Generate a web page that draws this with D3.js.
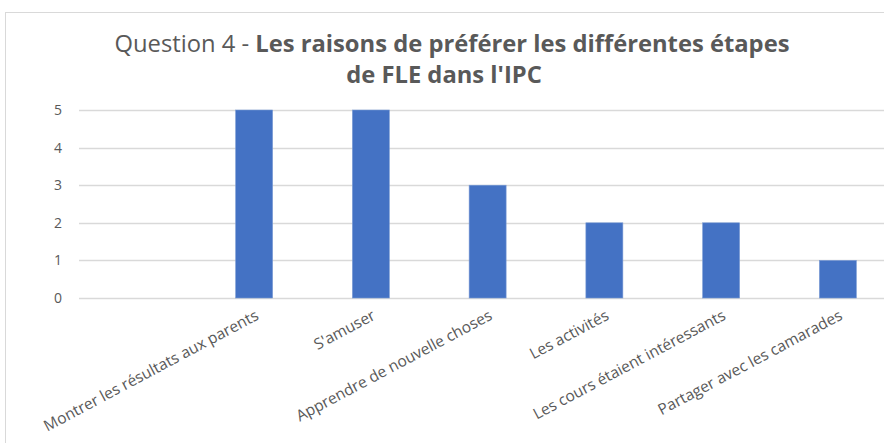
<!DOCTYPE html>
<html>
<head>
<meta charset="utf-8">
<script src="https://cdn.jsdelivr.net/npm/d3@7"></script>
<style>
  body { margin: 0; background: #fff; }
  svg { display: block; }
</style>
</head>
<body>
<svg width="884" height="443"></svg>
<script>
const width = 884
const height = 443

// first slot of the category axis is empty in the source chart
const categories = ['', 'Montrer les résultats aux parents', "S'amuser", 'Apprendre de nouvelle choses', 'Les activités', 'Les cours étaient intéressants', 'Partager avec les camarades']
const values = [null, 5, 5, 3, 2, 2, 1]
const yTicks = [0, 1, 2, 3, 4, 5]

const margin = { top: 110, left: 79, bottom: 298 }
const step = 116.75
const textColor = '#595959'
const gridColor = '#d9d9d9'
const barColor = '#4472c4'

const svg = d3.select('svg')

// chart frame (runs off the right/bottom edges like the source)
svg.append('rect')
  .attr('x', 5.5).attr('y', 12.5)
  .attr('width', 1000).attr('height', 600)
  .attr('fill', '#fff')
  .attr('stroke', gridColor)

const xScale = d3.scaleBand()
  .domain(categories)
  .range([margin.left, margin.left + step * categories.length])

const yScale = d3.scaleLinear()
  .domain([0, 5])
  .range([margin.bottom, margin.top])

// gridlines
svg.append('g')
  .selectAll('line')
  .data(yTicks)
  .enter().append('line')
  .attr('x1', margin.left)
  .attr('x2', width)
  .attr('y1', d => Math.round(yScale(d)) + 0.5)
  .attr('y2', d => Math.round(yScale(d)) + 0.5)
  .attr('stroke', gridColor)
  .attr('stroke-width', 1.3)

// y axis labels
const yAxis = d3.axisLeft(yScale)
  .tickValues(yTicks)
  .tickFormat(d3.format('d'))
  .tickSize(0)
  .tickPadding(0)

svg.append('g')
  .attr('transform', `translate(${[62, 0]})`)
  .call(yAxis)
  .call(g => g.select('.domain').remove())
  .selectAll('text')
  .attr('fill', textColor)
  .attr('font-size', 14)
  .attr('font-family', 'Open Sans, sans-serif')

// bars
const barWidth = 37
svg.append('g')
  .selectAll('rect')
  .data(categories.map((c, i) => ({ c, v: values[i] })).filter(d => d.v != null))
  .enter().append('rect')
  .attr('x', d => xScale(d.c) + (xScale.bandwidth() - barWidth) / 2)
  .attr('y', d => yScale(d.v))
  .attr('width', barWidth)
  .attr('height', d => yScale(0) - yScale(d.v))
  .attr('fill', barColor)
  .attr('stroke', '#7b9bd4')
  .attr('stroke-width', 0.6)

// x labels, rotated
svg.append('g')
  .selectAll('text')
  .data(categories.filter(c => c !== ''))
  .enter().append('text')
  .attr('transform', d => `translate(${[xScale(d) + xScale.bandwidth() / 2 + 3, 314]}) rotate(-28)`)
  .attr('text-anchor', 'end')
  .attr('dy', '0.35em')
  .attr('fill', textColor)
  .attr('font-size', 15.5)
  .attr('font-family', 'Open Sans, sans-serif')
  .text(d => d)

// title
const title = svg.append('g')
  .attr('font-family', 'Open Sans, sans-serif')
  .attr('fill', textColor)
  .attr('text-anchor', 'middle')

const line1 = title.append('text')
  .attr('x', 452).attr('y', 52)
  .attr('font-size', 21)
line1.append('tspan').text('Question 4 - ')
line1.append('tspan').attr('font-weight', 'bold').text('Les raisons de préférer les différentes étapes')

const line2 = title.append('text')
  .attr('x', 444).attr('y', 83)
  .attr('font-size', 21)
  .attr('font-weight', 'bold')
  .text("de FLE dans l'IPC")

// squeeze the title to the width of the original narrow font
const titleSize = 21 * 675 / line1.node().getComputedTextLength()
line1.attr('font-size', titleSize)
line2.attr('font-size', titleSize)
</script>
</body>
</html>
